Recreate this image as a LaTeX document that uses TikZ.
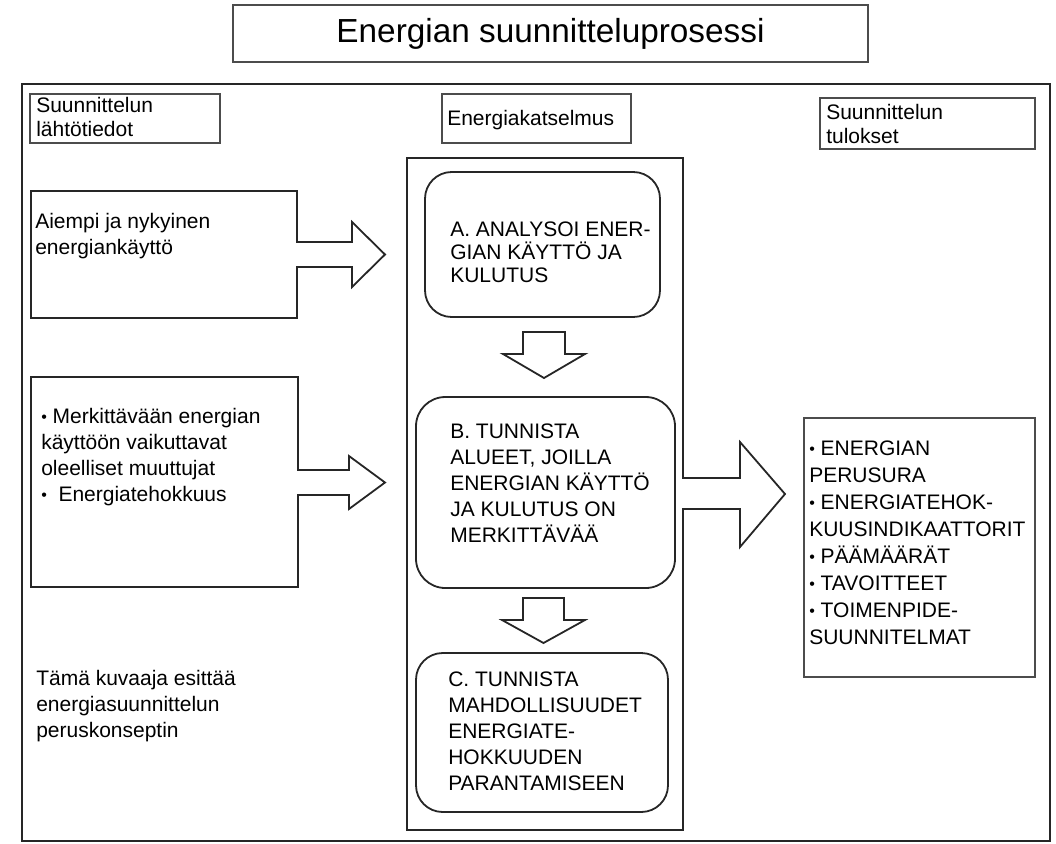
\documentclass[tikz,border=0pt]{standalone}
\usepackage{fontspec}
\setmainfont{Liberation Sans}
\usepackage{tikz}

\tikzset{
  frame/.style={line width=1.9pt, draw=black!85},
  outline/.style={line width=1.35pt, draw=black!85, line join=miter},
  thinbox/.style={line width=0.9pt, draw=black!70},
  txt/.style={anchor=west, inner sep=0pt, align=left, text=black, font=\fontsize{15.75}{19.5}\selectfont},
}
\newcommand{\bul}{{\fontsize{12}{12}\selectfont\raisebox{0.1ex}{\textbullet}}}

\begin{document}
\begin{tikzpicture}[x=0.75pt,y=0.75pt,yscale=-1]
\useasboundingbox (0,0) rectangle (1056,843);

%Shape: Rectangle (title)
\draw[thinbox] (233,5) rectangle (868,62);
% Text Node
\node[inner sep=0pt, text=black, font=\fontsize{25}{30}\selectfont] (title) at (550.5,34) {Energian suunnitteluprosessi};

%Shape: Rectangle (outer frame)
\draw[frame] (22,84) rectangle (1050,841);

%Shape: Rectangle (column heads)
\draw[thinbox] (30,94) rectangle (220,143);
\draw[thinbox] (442,94) rectangle (631,143);
\draw[thinbox] (820,98) rectangle (1035,149);
% Text Node
\node[txt, font=\fontsize{15.75}{18}\selectfont] (lahto) at (36,117) {Suunnittelun\\lähtötiedot};
\node[txt] (katselmus) at (447,120) {Energiakatselmus};
\node[txt, font=\fontsize{15.75}{17.5}\selectfont] (tulokset) at (826,124) {Suunnittelun\\tulokset};

%Shape: Box with arrow (input 1)
\draw[outline] (297,242) -- (352,242) -- (352,222) -- (385,254.5) -- (352,287) -- (352,267) -- (297,267)
  -- (297,318) -- (31,318) -- (31,191) -- (297,191) -- cycle;
% Text Node
\node[txt] (aiempi) at (35,236.5) {Aiempi ja nykyinen\\energiankäyttö};

%Shape: Box with arrow (input 2)
\draw[outline] (298,470) -- (349,470) -- (349,456) -- (385,482.5) -- (349,509) -- (349,495) -- (298,495)
  -- (298,587) -- (31,587) -- (31,377) -- (298,377) -- cycle;
% Text Node
\node[txt] (muuttujat) at (41,457) {\bul\ Merkittävään energian\\käyttöön vaikuttavat\\oleelliset muuttujat\\\bul\ \ Energiatehokkuus};

% Text Node
\node[txt] (kuvaaja) at (36,706) {Tämä kuvaaja esittää\\energiasuunnittelun\\peruskonseptin};

%Shape: Box with arrow (energy review)
\draw[outline] (683,478) -- (740,478) -- (740,442) -- (785,494) -- (740,547) -- (740,509) -- (683,509)
  -- (683,830) -- (407,830) -- (407,158) -- (683,158) -- cycle;

%Shape: Rounded Rectangle (step A)
\draw[outline, rounded corners=20pt] (425,172) rectangle (660,317);
\node[txt, font=\fontsize{15.75}{17.25}\selectfont] (vaiheA) at (450,252) {A. ANALYSOI ENER-\\GIAN KÄYTTÖ JA\\KULUTUS};

%Shape: Down Arrow
\draw[outline] (523,332) -- (565,332) -- (565,354) -- (585,354) -- (544,378) -- (503,354) -- (523,354) -- cycle;

%Shape: Rounded Rectangle (step B)
\draw[outline, rounded corners=22pt] (416,397) rectangle (675,588);
\node[txt] (vaiheB) at (450,483) {B. TUNNISTA\\ALUEET, JOILLA\\ENERGIAN KÄYTTÖ\\JA KULUTUS ON\\MERKITTÄVÄÄ};

%Shape: Down Arrow
\draw[outline] (523,598) -- (564,598) -- (564,620) -- (585,620) -- (543.5,643) -- (502,620) -- (523,620) -- cycle;

%Shape: Rounded Rectangle (step C)
\draw[outline, rounded corners=20pt] (416,653) rectangle (668,812);
\node[txt] (vaiheC) at (448,731) {C. TUNNISTA\\MAHDOLLISUUDET\\ENERGIATE-\\HOKKUUDEN\\PARANTAMISEEN};

%Shape: Rectangle (results)
\draw[thinbox] (804,418) rectangle (1035,677);
\node[txt, font=\fontsize{15.75}{20.25}\selectfont] (tulos) at (809,543) {\bul\ ENERGIAN\\PERUSURA\\\bul\ ENERGIATEHOK-\\KUUSINDIKAATTORIT\\\bul\ PÄÄMÄÄRÄT\\\bul\ TAVOITTEET\\\bul\ TOIMENPIDE-\\SUUNNITELMAT};

\end{tikzpicture}
\end{document}
